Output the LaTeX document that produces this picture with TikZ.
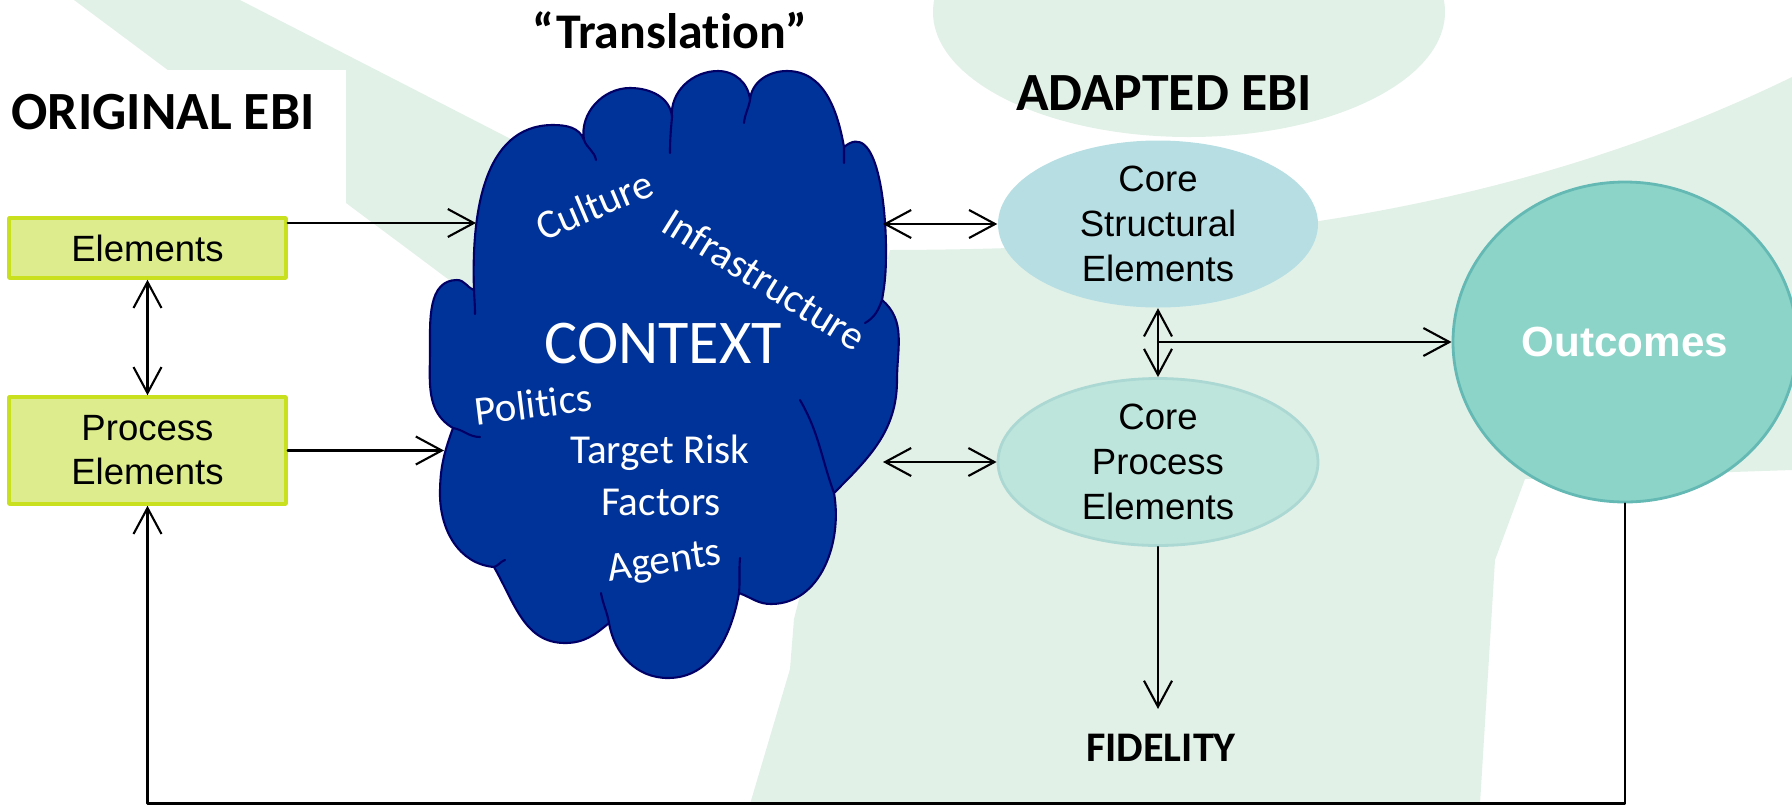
\documentclass[tikz,border=0pt]{standalone}
\usepackage{fontspec}
\setmainfont[Ligatures={TeX,NoCommon}]{Carlito}
\newfontfamily\arialfont{Liberation Sans}
\usetikzlibrary{arrows.meta,shapes.geometric}
\definecolor{palegreen}{RGB}{226,241,232}
\definecolor{cloudfill}{RGB}{0,51,153}
\definecolor{cloudedge}{RGB}{0,0,102}
\definecolor{boxfill}{RGB}{221,236,140}
\definecolor{boxedge}{RGB}{200,224,30}
\definecolor{csefill}{RGB}{183,223,227}
\definecolor{cpefill}{RGB}{190,229,220}
\definecolor{cpeedge}{RGB}{172,216,211}
\definecolor{outfill}{RGB}{140,212,200}
\definecolor{outedge}{RGB}{100,185,180}
\begin{document}
\begin{tikzpicture}[line cap=round,line join=round,>={Straight Barb[length=2.6mm,width=2.8mm]},x=1.0cm,y=1.0cm,
  conn/.style={line width=0.6pt,color=black},
  title/.style={anchor=base,inner sep=0pt,font=\bfseries\fontsize{15.3}{18}\selectfont},
  ebibox/.style={rectangle,draw=boxedge,line width=1pt,fill=boxfill,minimum width=2.77cm,inner sep=0pt,align=center,font=\arialfont\fontsize{10.4}{12.5}\selectfont},
  coreell/.style={ellipse,minimum width=3.20cm,minimum height=1.67cm,inner sep=0pt},
  corelbl/.style={align=center,font=\arialfont\fontsize{10.4}{12.8}\selectfont},
  cloudword/.style={anchor=base,inner sep=0pt,text=white,font=\fontsize{11.7}{14}\selectfont}]
\useasboundingbox (0,0) rectangle (17.92,8.04);
% background swooshes
\fill[palegreen] (0.74,8.04) -- (2.40,8.04) -- (5.40,6.50) -- (4.76,5.04) -- cycle;
\fill[palegreen] (11.89,7.92) ellipse (2.56cm and 1.25cm);
\fill[palegreen] (8.90,5.54) .. controls (12.00,5.55) and (15.00,5.85) .. (17.92,7.27) -- (17.92,3.34) -- (15.25,3.25) -- (14.95,2.44) -- (14.80,0) -- (7.50,0) -- (7.90,1.35) -- (7.94,1.85) -- (8.50,4.04) -- cycle;
\fill[white] (0,5.87) rectangle (3.46,7.34);
% titles
\node[title] (orig) at (1.63,6.75) {ORIGINAL EBI};
\node[title,font=\bfseries\fontsize{14.2}{17}\selectfont] (transl) at (6.70,7.56) {``Translation''};
\node[title] (adapt) at (11.64,6.94) {ADAPTED EBI};
\node[title,font=\bfseries\fontsize{12}{14}\selectfont] (fid) at (11.61,0.43) {FIDELITY};
% original EBI
\node[ebibox,minimum height=0.60cm] (elem) at (1.475,5.56) {Elements};
\node[ebibox,minimum height=1.07cm] (proc) at (1.475,3.535) {Process\\Elements};
% context cloud
\draw[line width=0.6pt,draw=cloudedge,fill=cloudfill]
 (4.74,5.14) to[out=92,in=180] (5.53,6.79) to[out=0,in=110] (5.84,6.64)
 to[out=100,in=180] (6.30,7.16) to[out=0,in=95] (6.72,6.87)
 to[out=95,in=180] (7.18,7.33) to[out=0,in=95] (7.50,7.04)
 to[out=85,in=180] (7.87,7.33) to[out=0,in=100] (8.44,6.57)
 to[out=40,in=90] (8.86,5.54) to[out=-90,in=80] (8.82,5.04)
 to[out=-40,in=90] (8.97,4.24) to[out=-90,in=45] (8.34,3.11)
 to[out=-80,in=0] (7.71,2.00) to[out=180,in=-20] (7.39,2.11)
 to[out=-100,in=0] (6.68,1.26) to[out=180,in=-80] (6.09,1.81)
 to[out=-140,in=0] (5.65,1.61) to[out=180,in=-60] (4.94,2.37)
 to[out=175,in=-90] (4.40,3.10) to[out=90,in=-110] (4.53,3.76)
 to[out=150,in=-90] (4.30,4.54) to[out=90,in=180] (4.57,5.24) to[out=0,in=160] cycle;
\draw[line width=0.6pt,draw=cloudedge]
 (5.84,6.64) to[out=-70,in=100] (5.96,6.44)
 (6.72,6.87) to[out=-95,in=90] (6.70,6.51)
 (7.50,7.04) to[out=-100,in=85] (7.44,6.81)
 (8.44,6.57) to[out=-90,in=90] (8.44,6.41)
 (8.82,5.04) to[out=-110,in=30] (8.65,4.81)
 (8.34,3.11) to[out=110,in=-60] (8.00,4.04)
 (7.39,2.11) to[out=85,in=-95] (7.40,2.46)
 (6.09,1.81) to[out=100,in=-80] (6.01,2.11)
 (4.94,2.37) to[out=20,in=-160] (5.05,2.44)
 (4.53,3.76) to[out=-10,in=180] (4.80,3.67)
 (4.74,5.14) to[out=-88,in=90] (4.75,4.90);
\node[cloudword,rotate=23] (culture) at (6.00,5.86) {Culture};
\node[cloudword,rotate=-32] (infra) at (7.57,5.13) {Infrastructure};
\node[cloudword,font=\fontsize{17.7}{20}\selectfont] (context) at (6.63,4.41) {CONTEXT};
\node[cloudword,rotate=7] (politics) at (5.35,3.86) {Politics};
\node[cloudword] (trisk) at (6.60,3.41) {Target Risk};
\node[cloudword] (factors) at (6.61,2.89) {Factors};
\node[cloudword,rotate=8.5] (agents) at (6.66,2.31) {Agents};
\coordinate (ctxA) at (4.76,5.81);
\coordinate (ctxB) at (4.44,3.535);
\coordinate (ctxC) at (8.83,5.80);
\coordinate (ctxD) at (8.83,3.42);
% adapted EBI
\node[coreell,fill=csefill,label={[corelbl]center:Core\\Structural\\Elements}] (cse) at (11.58,5.80) {};
\node[coreell,draw=cpeedge,line width=0.8pt,fill=cpefill,label={[corelbl]center:Core\\Process\\Elements}] (cpe) at (11.58,3.42) {};
\node[ellipse,draw=outedge,line width=0.8pt,fill=outfill,minimum width=3.44cm,minimum height=3.20cm,inner sep=0pt,text=white,font=\arialfont\bfseries\fontsize{12}{14}\selectfont] (out) at (16.25,4.62) {Outcomes};
\coordinate (base) at (0,0.005);
% connectors
\draw[conn,->] (ctxA -| elem.east) -- (ctxA);
\draw[conn,->] (proc.east) -- (ctxB);
\draw[conn,<->] (elem.south) -- (proc.north);
\draw[conn,<->] (ctxC) -- (cse.west);
\draw[conn,<->] (ctxD) -- (cpe.west);
\draw[conn,<->] (cse.south) -- (cpe.north);
\draw[conn,->] (cse.south |- out.west) -- (out.west);
\draw[conn,->,shorten >=2.4mm] (cpe.south) -- (cpe.south |- fid.north);
\draw[conn,->] (out.south) -- (out.south |- base) -| (proc.south);
\end{tikzpicture}
\end{document}
